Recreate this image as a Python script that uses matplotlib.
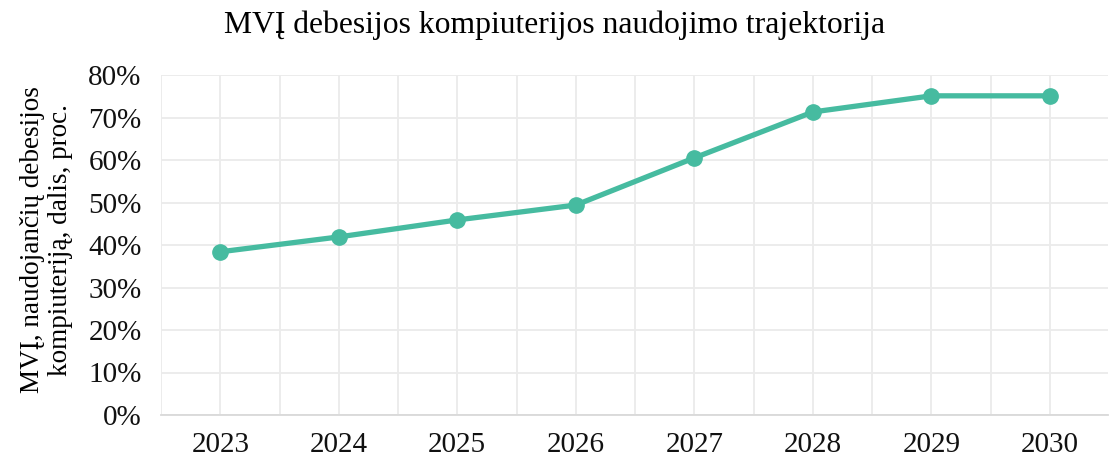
import matplotlib
matplotlib.use("Agg")
import matplotlib.pyplot as plt
from matplotlib.ticker import FuncFormatter, MultipleLocator, FixedLocator

years = [2023, 2024, 2025, 2026, 2027, 2028, 2029, 2030]
share = [38.4, 41.9, 45.9, 49.4, 60.5, 71.3, 75.1, 75.1]
title = "MVĮ debesijos kompiuterijos naudojimo trajektorija"
ylabel = "MVĮ, naudojančių debesijos\nkompiuteriją, dalis, proc."

plt.rcParams['font.family'] = ['Liberation Serif', 'DejaVu Serif']

fig = plt.figure(figsize=(11.09, 4.59), dpi=100)
ax = fig.add_axes([161/1109, 1-415/459, (1108-161)/1109, (415-75)/459])

ax.plot(years, share, color='#46BBA0', lw=3.8, marker='o', ms=11, solid_capstyle='round', zorder=3)

ax.set_xlim(2022.5, 2030.49)
ax.set_ylim(0, 80)
ax.xaxis.set_major_locator(FixedLocator(years))
ax.xaxis.set_minor_locator(FixedLocator([y + 0.5 for y in range(2022, 2031)]))
ax.yaxis.set_major_locator(MultipleLocator(10))
ax.yaxis.set_major_formatter(FuncFormatter(lambda v, p: f"{int(v)}%"))
ax.grid(which='both', axis='x', color='#ebebeb', lw=1.3)
ax.grid(which='major', axis='y', color='#ebebeb', lw=1.3)
ax.set_axisbelow(True)
for s in ['top', 'right', 'left']:
    ax.spines[s].set_visible(False)
ax.spines['bottom'].set_color('#d9d9d9')
ax.spines['bottom'].set_linewidth(1.3)
ax.tick_params(axis='both', which='both', length=0, labelsize=21, colors='#111111')
ax.tick_params(axis='x', pad=12)
ax.tick_params(axis='y', pad=14)

ax.set_ylabel(ylabel, fontsize=19.5, linespacing=1.15)
ax.yaxis.set_label_coords(-0.093, 0.515)
fig.text(0.5, 1-25/459, title, ha='center', va='center', fontsize=22.8)

fig.savefig("out.png", dpi=100)
